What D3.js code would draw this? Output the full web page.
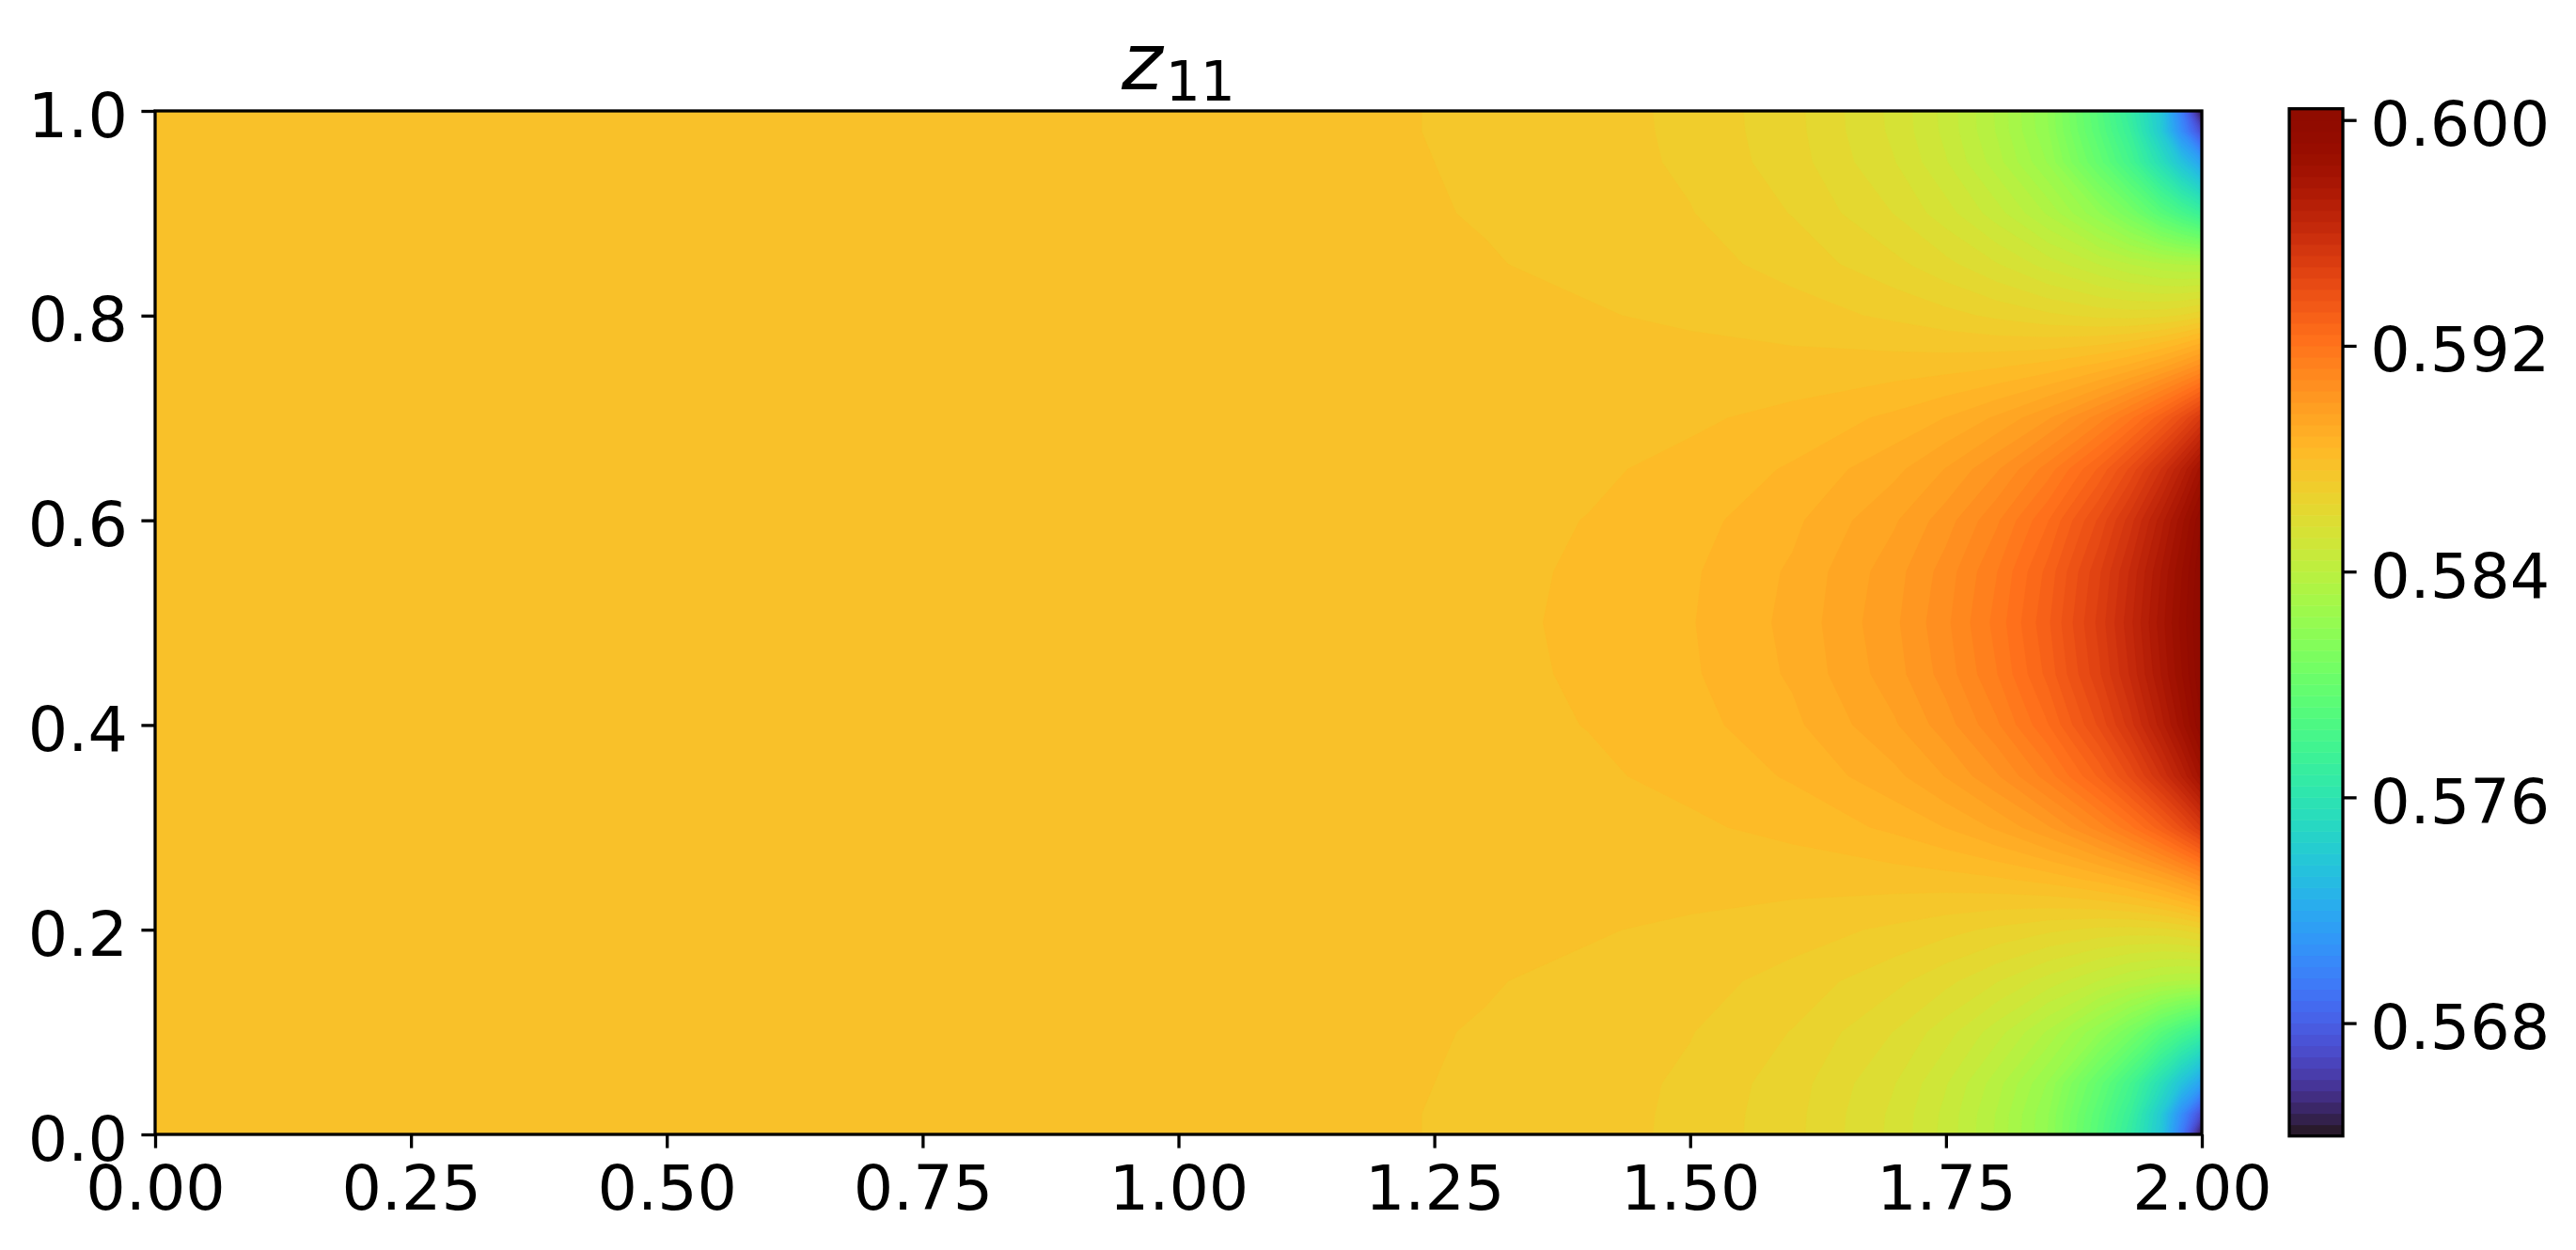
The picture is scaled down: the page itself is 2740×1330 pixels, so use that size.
<!DOCTYPE html>
<html>
<head>
<meta charset="utf-8">
<script src="https://cdn.jsdelivr.net/npm/d3@7"></script>
<style>
  html, body { margin: 0; padding: 0; background: #fff; }
  svg text { font-family: "DejaVu Sans", sans-serif; fill: #000; }
</style>
</head>
<body>
<script>

//Sample positions of the field (not evenly spaced, denser near x = 2)
var xGrid = [0, 1.0, 1.2, 1.3, 1.4, 1.5, 1.6, 1.7, 1.75, 1.8, 1.85, 1.9, 1.93, 1.96, 1.98, 2.0];
var yGrid = [0, 0.02, 0.05, 0.1, 0.15, 0.2, 0.25, 0.3, 0.35, 0.4, 0.45, 0.5,
             0.55, 0.6, 0.65, 0.7, 0.75, 0.8, 0.85, 0.9, 0.95, 0.98, 1.0];

//z11 values, one row per yGrid entry (bottom to top)
var zGrid = [
  [0.58773, 0.58770, 0.58763, 0.58755, 0.58739, 0.58709, 0.58653, 0.58548, 0.58465, 0.58352, 0.58196, 0.57900, 0.57680, 0.57380, 0.56950, 0.56420],
  [0.58773, 0.58770, 0.58763, 0.58755, 0.58739, 0.58710, 0.58654, 0.58550, 0.58468, 0.58355, 0.58201, 0.57920, 0.57720, 0.57400, 0.57050, 0.56700],
  [0.58773, 0.58770, 0.58764, 0.58756, 0.58741, 0.58712, 0.58659, 0.58561, 0.58483, 0.58377, 0.58234, 0.57980, 0.57800, 0.57550, 0.57350, 0.57150],
  [0.58773, 0.58771, 0.58765, 0.58758, 0.58745, 0.58722, 0.58678, 0.58598, 0.58537, 0.58457, 0.58352, 0.58200, 0.58080, 0.57920, 0.57820, 0.57720],
  [0.58773, 0.58771, 0.58767, 0.58762, 0.58753, 0.58736, 0.58705, 0.58651, 0.58612, 0.58562, 0.58502, 0.58437, 0.58399, 0.58369, 0.58356, 0.58353],
  [0.58773, 0.58772, 0.58770, 0.58767, 0.58763, 0.58754, 0.58738, 0.58712, 0.58693, 0.58671, 0.58648, 0.58629, 0.58624, 0.58629, 0.58642, 0.58666],
  [0.58773, 0.58773, 0.58773, 0.58773, 0.58773, 0.58774, 0.58775, 0.58780, 0.58785, 0.58796, 0.58817, 0.58856, 0.58893, 0.58948, 0.58999, 0.59063],
  [0.58773, 0.58774, 0.58776, 0.58779, 0.58784, 0.58793, 0.58812, 0.58849, 0.58881, 0.58927, 0.58995, 0.59100, 0.59188, 0.59304, 0.59402, 0.59520],
  [0.58773, 0.58775, 0.58779, 0.58784, 0.58793, 0.58811, 0.58845, 0.58909, 0.58962, 0.59035, 0.59139, 0.59288, 0.59408, 0.59559, 0.59680, 0.59823],
  [0.58773, 0.58775, 0.58781, 0.58788, 0.58801, 0.58825, 0.58870, 0.58955, 0.59021, 0.59113, 0.59238, 0.59409, 0.59540, 0.59698, 0.59821, 0.59960],
  [0.58773, 0.58776, 0.58782, 0.58790, 0.58805, 0.58834, 0.58886, 0.58983, 0.59058, 0.59159, 0.59294, 0.59473, 0.59605, 0.59759, 0.59874, 0.60001],
  [0.58773, 0.58776, 0.58783, 0.58791, 0.58807, 0.58837, 0.58891, 0.58992, 0.59070, 0.59175, 0.59313, 0.59494, 0.59627, 0.59779, 0.59891, 0.60010],
  [0.58773, 0.58776, 0.58782, 0.58790, 0.58805, 0.58834, 0.58886, 0.58983, 0.59058, 0.59159, 0.59294, 0.59473, 0.59605, 0.59759, 0.59874, 0.60001],
  [0.58773, 0.58775, 0.58781, 0.58788, 0.58801, 0.58825, 0.58870, 0.58955, 0.59021, 0.59113, 0.59238, 0.59409, 0.59540, 0.59698, 0.59821, 0.59960],
  [0.58773, 0.58775, 0.58779, 0.58784, 0.58793, 0.58811, 0.58845, 0.58909, 0.58962, 0.59035, 0.59139, 0.59288, 0.59408, 0.59559, 0.59680, 0.59823],
  [0.58773, 0.58774, 0.58776, 0.58779, 0.58784, 0.58793, 0.58812, 0.58849, 0.58881, 0.58927, 0.58995, 0.59100, 0.59188, 0.59304, 0.59402, 0.59520],
  [0.58773, 0.58773, 0.58773, 0.58773, 0.58773, 0.58774, 0.58775, 0.58780, 0.58785, 0.58796, 0.58817, 0.58856, 0.58893, 0.58948, 0.58999, 0.59063],
  [0.58773, 0.58772, 0.58770, 0.58767, 0.58763, 0.58754, 0.58738, 0.58712, 0.58693, 0.58671, 0.58648, 0.58629, 0.58624, 0.58629, 0.58642, 0.58666],
  [0.58773, 0.58771, 0.58767, 0.58762, 0.58753, 0.58736, 0.58705, 0.58651, 0.58612, 0.58562, 0.58502, 0.58437, 0.58399, 0.58369, 0.58356, 0.58353],
  [0.58773, 0.58771, 0.58765, 0.58758, 0.58745, 0.58722, 0.58678, 0.58598, 0.58537, 0.58457, 0.58352, 0.58200, 0.58080, 0.57920, 0.57820, 0.57720],
  [0.58773, 0.58770, 0.58764, 0.58756, 0.58741, 0.58712, 0.58659, 0.58561, 0.58483, 0.58377, 0.58234, 0.57980, 0.57800, 0.57550, 0.57350, 0.57150],
  [0.58773, 0.58770, 0.58763, 0.58755, 0.58739, 0.58710, 0.58654, 0.58550, 0.58468, 0.58355, 0.58201, 0.57920, 0.57720, 0.57400, 0.57050, 0.56700],
  [0.58773, 0.58770, 0.58763, 0.58755, 0.58739, 0.58709, 0.58653, 0.58548, 0.58465, 0.58352, 0.58196, 0.57900, 0.57680, 0.57380, 0.56950, 0.56420]
];

//Tick labels
var xTicks = [0, 0.25, 0.5, 0.75, 1.0, 1.25, 1.5, 1.75, 2.0];
var yTicks = [0, 0.2, 0.4, 0.6, 0.8, 1.0];
var cbarTicks = [0.568, 0.576, 0.584, 0.592, 0.600];

//Filled contour levels
var levelMin = 0.5640;
var levelMax = 0.6004;
var levelStep = 0.0004;

var titleMain = "z";
var titleSub = "11";

//Width and height
var w = 2740;
var h = 1330;

var plot = { left: 165, right: 2342, top: 118, bottom: 1207 };
var cbar = { left: 2435, right: 2492, top: 115.7, bottom: 1208.7 };

var fontSize = 66.7;
var tickLen = 14.6;
var lineW = 3.3;

//Create SVG element
var svg = d3.select("body")
            .append("svg")
            .attr("width", w)
            .attr("height", h);

var x = d3.scaleLinear().domain([0, 2]).range([plot.left, plot.right]);
var y = d3.scaleLinear().domain([0, 1]).range([plot.bottom, plot.top]);

//grid index -> data coordinate (piecewise, since the grid is uneven)
var ix = d3.scaleLinear().domain(d3.range(xGrid.length)).range(xGrid).clamp(true);
var iy = d3.scaleLinear().domain(d3.range(yGrid.length)).range(yGrid).clamp(true);

var nLevels = Math.round((levelMax - levelMin) / levelStep) + 1;
var levels = d3.range(nLevels).map(function(i) { return +(levelMin + i * levelStep).toFixed(4); });

var color = d3.scaleSequential(d3.interpolateTurbo).domain([levelMin, levelMax]);
function bandColor(i) { return color((levels[i] + levels[i + 1]) / 2); }

//Contour bands (each threshold = region above that level)
var values = zGrid.flat();
var contours = d3.contours()
                 .size([xGrid.length, yGrid.length])
                 .thresholds(levels.slice(0, -1))(values);

//d3 places sample k at grid coordinate k + 0.5
var toPixels = d3.geoTransform({
  point: function(gx, gy) {
    this.stream.point(x(ix(gx - 0.5)), y(iy(gy - 0.5)));
  }
});
var path = d3.geoPath(toPixels);

svg.append("clipPath")
   .attr("id", "plotClip")
   .append("rect")
   .attr("x", plot.left)
   .attr("y", plot.top)
   .attr("width", plot.right - plot.left)
   .attr("height", plot.bottom - plot.top);

svg.append("g")
   .attr("clip-path", "url(#plotClip)")
   .selectAll("path")
   .data(contours)
   .enter()
   .append("path")
   .attr("d", path)
   .attr("fill", function(d, i) { return bandColor(i); })
   .attr("stroke", function(d, i) { return bandColor(i); })
   .attr("stroke-width", 0.6);

//Frame
svg.append("rect")
   .attr("x", plot.left)
   .attr("y", plot.top)
   .attr("width", plot.right - plot.left)
   .attr("height", plot.bottom - plot.top)
   .attr("fill", "none")
   .attr("stroke", "#000")
   .attr("stroke-width", lineW);

function styleAxis(g) {
  g.select(".domain").remove();
  g.selectAll(".tick line").attr("stroke", "#000").attr("stroke-width", lineW);
  g.selectAll(".tick text").attr("font-size", fontSize).attr("font-family", "DejaVu Sans");
}

//X axis
var xAxis = svg.append("g")
   .attr("transform", "translate(0," + plot.bottom + ")")
   .call(d3.axisBottom(x).tickValues(xTicks).tickFormat(d3.format(".2f"))
           .tickSize(tickLen).tickPadding(tickLen).tickSizeOuter(0));
styleAxis(xAxis);
xAxis.selectAll(".tick text").attr("dy", "0.76em");

//Y axis
var yAxis = svg.append("g")
   .attr("transform", "translate(" + plot.left + ",0)")
   .call(d3.axisLeft(y).tickValues(yTicks).tickFormat(d3.format(".1f"))
           .tickSize(tickLen).tickPadding(tickLen).tickSizeOuter(0));
styleAxis(yAxis);
yAxis.selectAll(".tick text").attr("dy", "0.405em");

//Colorbar
var cy = d3.scaleLinear().domain([levelMin, levelMax]).range([cbar.bottom, cbar.top]);

svg.append("g")
   .selectAll("rect")
   .data(d3.range(nLevels - 1))
   .enter()
   .append("rect")
   .attr("x", cbar.left)
   .attr("width", cbar.right - cbar.left)
   .attr("y", function(i) { return cy(levels[i + 1]); })
   .attr("height", function(i) { return cy(levels[i]) - cy(levels[i + 1]) + 0.5; })
   .attr("fill", function(i) { return bandColor(i); });

svg.append("rect")
   .attr("x", cbar.left)
   .attr("y", cbar.top)
   .attr("width", cbar.right - cbar.left)
   .attr("height", cbar.bottom - cbar.top)
   .attr("fill", "none")
   .attr("stroke", "#000")
   .attr("stroke-width", lineW);

var cAxis = svg.append("g")
   .attr("transform", "translate(" + cbar.right + ",0)")
   .call(d3.axisRight(cy).tickValues(cbarTicks).tickFormat(d3.format(".3f"))
           .tickSize(tickLen).tickPadding(tickLen).tickSizeOuter(0));
styleAxis(cAxis);
cAxis.selectAll(".tick text").attr("dy", "0.405em");

//Title z_11
var title = svg.append("text")
   .attr("x", (plot.left + plot.right) / 2)
   .attr("y", 95)
   .attr("text-anchor", "middle")
   .attr("font-size", 83.3);
title.append("tspan").attr("font-style", "italic").text(titleMain);
title.append("tspan").attr("font-size", 58.3).attr("dy", 12).attr("dx", 3).text(titleSub);

</script>
</body>
</html>
